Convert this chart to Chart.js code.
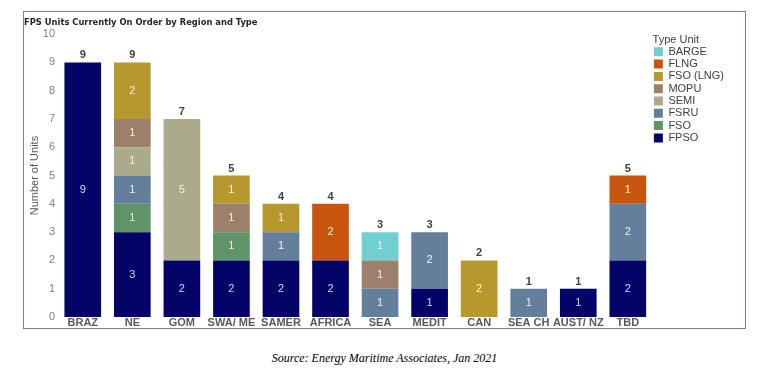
<!DOCTYPE html>
<html>
<head>
<meta charset="utf-8">
<script src="https://cdn.jsdelivr.net/npm/chart.js@4"></script>
<style>
  body { margin: 0; background: #fff; }
  #box {
    position: absolute; left: 23px; top: 11px;
    width: 721px; height: 316px;
    border: 1px solid #6f84a6;
  }
  #source {
    position: absolute; left: 23px; top: 351px; width: 723px;
    text-align: center;
    font: italic 12px "Liberation Serif", serif; color: #000;
  }
</style>
</head>
<body>
<div id="box"><canvas id="chart" width="721" height="316"></canvas></div>
<div id="source">Source: Energy Maritime Associates, Jan 2021</div>
<script>
// data
const regions = ['BRAZ', 'NE', 'GOM', 'SWA/ ME', 'SAMER', 'AFRICA', 'SEA', 'MEDIT', 'CAN', 'SEA CH', 'AUST/ NZ', 'TBD'];

const fpso    = [9, 3, 2, 2, 2, 2, 0, 1, 0, 0, 1, 2];
const fso     = [0, 1, 0, 1, 0, 0, 0, 0, 0, 0, 0, 0];
const fsru    = [0, 1, 0, 0, 1, 0, 1, 2, 0, 1, 0, 2];
const semi    = [0, 1, 5, 0, 0, 0, 0, 0, 0, 0, 0, 0];
const mopu    = [0, 1, 0, 1, 0, 0, 1, 0, 0, 0, 0, 0];
const fsoLng  = [0, 2, 0, 1, 1, 0, 0, 0, 2, 0, 0, 0];
const flng    = [0, 0, 0, 0, 0, 2, 0, 0, 0, 0, 0, 1];
const barge   = [0, 0, 0, 0, 0, 0, 1, 0, 0, 0, 0, 0];

const yTicks = [0, 1, 2, 3, 4, 5, 6, 7, 8, 9, 10];

const totals = regions.map((_, i) =>
  fpso[i] + fso[i] + fsru[i] + semi[i] + mopu[i] + fsoLng[i] + flng[i] + barge[i]);

const series = [
  { label: 'FPSO',      data: fpso,   color: '#030368' },
  { label: 'FSO',       data: fso,    color: '#5e9467' },
  { label: 'FSRU',      data: fsru,   color: '#637f9c' },
  { label: 'SEMI',      data: semi,   color: '#abaa8b' },
  { label: 'MOPU',      data: mopu,   color: '#9c806b' },
  { label: 'FSO (LNG)', data: fsoLng, color: '#b6982f' },
  { label: 'FLNG',      data: flng,   color: '#c9540d' },
  { label: 'BARGE',     data: barge,  color: '#6fcfd1' }
];

const FONT = '"Liberation Sans", Arial, sans-serif';

// segment values inside the bars, totals above them
const barLabels = {
  id: 'barLabels',
  afterDatasetsDraw(chart) {
    const ctx = chart.ctx;
    ctx.save();
    ctx.textAlign = 'center';
    ctx.textBaseline = 'middle';
    chart.data.datasets.forEach((ds, di) => {
      const meta = chart.getDatasetMeta(di);
      meta.data.forEach((bar, i) => {
        const v = ds.data[i];
        if (!v) return;
        ctx.font = '11px ' + FONT;
        ctx.fillStyle = di === 0 ? '#d6d6f4' : '#f4f1e6';
        ctx.fillText(v, bar.x, (bar.y + bar.base) / 2);
      });
    });
    const ys = chart.scales.y;
    const xs = chart.scales.x;
    ctx.font = 'bold 11px ' + FONT;
    ctx.fillStyle = '#404040';
    totals.forEach((t, i) => {
      ctx.fillText(t, xs.getPixelForValue(i), ys.getPixelForValue(t) - 7);
    });
    ctx.restore();
  }
};

new Chart(document.getElementById('chart'), {
  type: 'bar',
  data: {
    labels: regions,
    datasets: series.map(s => ({
      label: s.label,
      data: s.data,
      backgroundColor: s.color,
      borderWidth: 0,
      barPercentage: 0.74,
      categoryPercentage: 1
    }))
  },
  options: {
    responsive: false,
    animation: false,
    layout: { padding: { top: 0, right: 11, bottom: 0, left: 0 } },
    plugins: {
      title: {
        display: true,
        text: 'FPS Units Currently On Order by Region and Type',
        align: 'start',
        color: '#262626',
        font: { family: '"DejaVu Sans Condensed", "DejaVu Sans", sans-serif', size: 9.3, weight: 'bold' },
        padding: { top: 5, bottom: 6 }
      },
      legend: {
        position: 'right',
        align: 'start',
        reverse: true,
        title: {
          display: true,
          text: 'Type Unit',
          position: 'start',
          color: '#404040',
          font: { family: FONT, size: 11, lineHeight: 1 },
          padding: { top: 22, bottom: 0 }
        },
        labels: {
          boxWidth: 9,
          boxHeight: 9,
          padding: 1.3,
          color: '#404040',
          font: { family: FONT, size: 11, lineHeight: 1 }
        }
      },
      tooltip: { enabled: false }
    },
    scales: {
      x: {
        stacked: true,
        grid: { display: false, drawTicks: false },
        border: { display: false },
        ticks: {
          color: '#595959', font: { family: FONT, size: 11, weight: 'bold', lineHeight: 1 },
          padding: 0, maxRotation: 0, autoSkip: false
        }
      },
      y: {
        stacked: true,
        min: 0,
        max: 10,
        afterBuildTicks: axis => { axis.ticks = yTicks.map(v => ({ value: v })); },
        afterFit: axis => { axis.width = 34; },
        grid: { display: false, drawTicks: false },
        border: { display: false },
        title: {
          display: true,
          text: 'Number of Units',
          color: '#595959',
          font: { family: FONT, size: 11 },
          padding: { top: 4, bottom: 0 }
        },
        ticks: { color: '#7f7f7f', font: { family: FONT, size: 11 }, padding: 3 }
      }
    }
  },
  plugins: [barLabels]
});
</script>
</body>
</html>
